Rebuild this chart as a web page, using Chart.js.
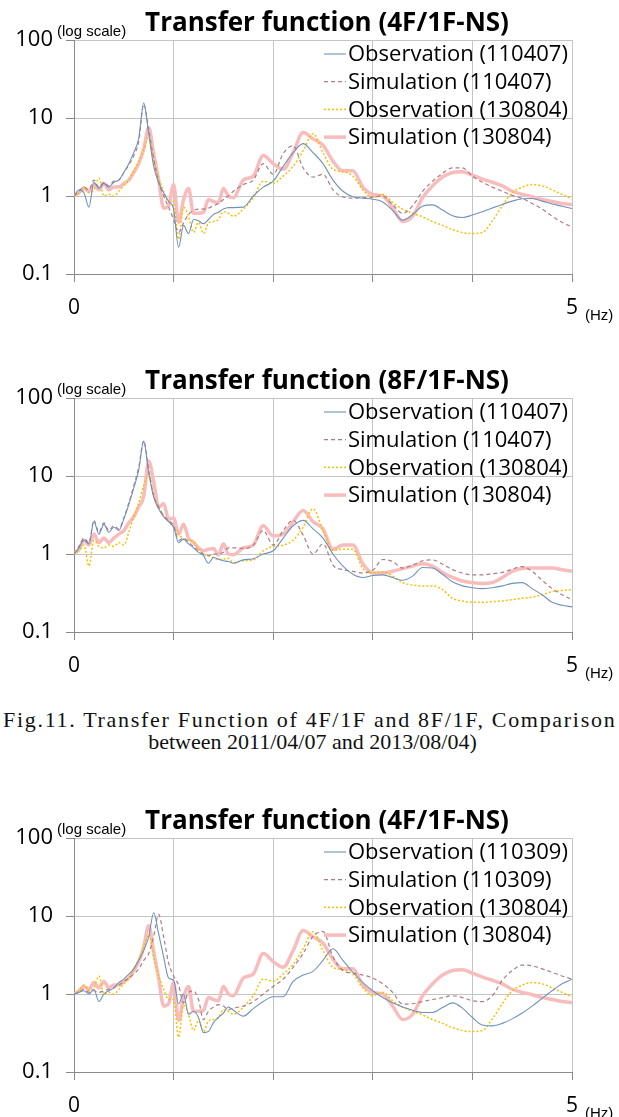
<!DOCTYPE html>
<html>
<head>
<meta charset="utf-8">
<script src="https://cdn.jsdelivr.net/npm/chart.js@4.4.1/dist/chart.umd.min.js"></script>
<style>
  html, body { margin: 0; padding: 0; background: #fff; overflow: hidden; }
  body { width: 619px; height: 1117px; position: relative; }
  .box { position: absolute; left: 0; width: 619px; height: 330px; }
  .cap { position: absolute; font-family: "Liberation Serif", serif; font-size: 22px; line-height: 25px; color: #111; white-space: nowrap; }
</style>
</head>
<body>
<div class="box" style="top:0px"><canvas id="tf1" width="619" height="330"></canvas></div>
<div class="box" style="top:358px"><canvas id="tf2" width="619" height="330"></canvas></div>
<div class="cap" style="top:707px; left:3px; letter-spacing:1.7px">Fig.11. Transfer Function of 4F/1F and 8F/1F, Comparison</div>
<div class="cap" style="top:729px; left:0; width:625px; text-align:center">between 2011/04/07 and 2013/08/04)</div>
<div class="box" style="top:798px"><canvas id="tf3" width="619" height="330"></canvas></div>

<script>
// frequency grid (Hz), shared by every series
const freqHz = [0, 0.05, 0.1, 0.15, 0.2, 0.25, 0.3, 0.35, 0.4, 0.45,
  0.5, 0.55, 0.6, 0.65, 0.7, 0.75, 0.8, 0.85, 0.9, 0.95,
  1.0, 1.05, 1.1, 1.15, 1.2, 1.25, 1.3, 1.35, 1.4, 1.45,
  1.5, 1.55, 1.6, 1.7, 1.8, 1.9, 2.0, 2.1, 2.2, 2.3,
  2.4, 2.5, 2.6, 2.7, 2.8, 2.9, 3.0, 3.1, 3.2, 3.3,
  3.4, 3.5, 3.6, 3.7, 3.8, 3.9, 4.0, 4.1, 4.2, 4.3,
  4.4, 4.5, 4.6, 4.7, 4.8, 4.9, 5.0];

const yTickValues = [0.1, 1, 10, 100];
const xTickValues = [0, 1, 2, 3, 4, 5];

// 4F/1F-NS
const obs110407_4F = [1.0, 1.2, 1.1, 0.72, 1.5, 1.25, 1.45, 1.3, 1.5, 1.6,
  2.0, 2.6, 3.6, 5.5, 15.5, 6.3, 2.4, 1.5, 1.1, 0.85,
  0.68, 0.22, 0.42, 0.33, 0.5, 0.48, 0.44, 0.5, 0.58, 0.62,
  0.68, 0.71, 0.71, 0.72, 1.0, 1.3, 1.55, 2.4, 3.6, 4.7,
  3.6, 2.6, 1.6, 1.15, 0.98, 0.94, 0.91, 0.84, 0.65, 0.49,
  0.58, 0.74, 0.77, 0.66, 0.56, 0.53, 0.57, 0.63, 0.7, 0.78,
  0.86, 0.92, 0.93, 0.86, 0.79, 0.74, 0.69];
const sim110407_4F = [1.0, 1.15, 1.3, 1.2, 1.6, 1.3, 1.5, 1.35, 1.55, 1.6,
  2.0, 2.5, 3.3, 5.0, 15, 7.0, 3.0, 1.5, 1.0, 0.72,
  0.5, 0.34, 0.45, 0.58, 0.65, 0.68, 0.68, 0.7, 0.75, 0.8,
  0.9, 1.0, 1.15, 1.4, 1.6, 2.6, 1.9, 3.5, 4.4, 2.3,
  1.75, 1.9, 1.2, 0.97, 0.94, 0.95, 0.97, 1.0, 0.77, 0.6,
  0.75, 1.15, 1.55, 1.95, 2.3, 2.3, 1.8, 1.5, 1.3, 1.15,
  1.02, 0.93, 0.8, 0.68, 0.55, 0.46, 0.4];
const obs130804_4F = [1.0, 1.1, 1.3, 1.1, 1.2, 1.7, 1.0, 1.05, 1.0, 1.15,
  1.35, 1.6, 2.1, 2.8, 4.0, 5.8, 3.0, 1.7, 1.15, 0.85,
  0.85, 0.28, 0.72, 0.55, 0.34, 0.46, 0.33, 0.45, 0.47, 0.5,
  0.63, 0.6, 0.55, 0.68, 0.95, 1.55, 1.45, 1.8, 2.4, 3.8,
  6.3, 3.6, 2.2, 2.05, 1.8, 1.2, 0.95, 1.05, 0.82, 0.68,
  0.6, 0.54, 0.47, 0.42, 0.37, 0.34, 0.33, 0.34, 0.48, 0.75,
  1.1, 1.3, 1.4, 1.35, 1.2, 1.05, 0.92];
const sim130804_4F = [1.0, 1.1, 1.25, 1.15, 1.4, 1.2, 1.45, 1.2, 1.3, 1.3,
  1.45, 1.6, 2.0, 2.6, 4.0, 7.5, 3.5, 1.6, 0.7, 0.75,
  1.4, 0.46, 0.9, 1.25, 0.6, 0.6, 0.62, 0.9, 0.85, 0.82,
  1.25, 1.0, 0.95, 1.6, 1.8, 3.3, 2.6, 2.2, 3.6, 6.5,
  5.4, 4.5, 2.8, 2.1, 2.1, 1.3, 1.05, 1.0, 0.7, 0.47,
  0.55, 0.95, 1.35, 1.75, 2.0, 2.05, 1.85, 1.65, 1.5, 1.35,
  1.15, 1.05, 0.98, 0.9, 0.85, 0.8, 0.78];

// 8F/1F-NS
const obs110407_8F = [1.0, 1.2, 1.5, 1.35, 2.6, 1.8, 2.4, 1.9, 2.2, 2.0,
  2.8, 4.3, 7.0, 12, 28, 11, 5.4, 3.8, 3.0, 2.6,
  2.2, 1.4, 1.55, 1.35, 1.2, 1.05, 0.95, 0.76, 0.9, 0.86,
  0.82, 0.8, 0.76, 0.84, 0.87, 1.0, 1.1, 1.6, 2.3, 2.7,
  2.1, 1.6, 1.0, 0.7, 0.55, 0.5, 0.53, 0.54, 0.5, 0.46,
  0.52, 0.67, 0.66, 0.55, 0.44, 0.39, 0.37, 0.36, 0.37, 0.39,
  0.42, 0.43, 0.36, 0.3, 0.24, 0.22, 0.21];
const sim110407_8F = [1.0, 1.25, 1.6, 1.4, 2.7, 1.9, 2.5, 2.0, 2.3, 2.1,
  2.9, 4.5, 7.5, 13, 28, 12, 5.6, 4.0, 3.1, 2.7,
  2.3, 1.5, 1.6, 1.4, 1.25, 1.1, 1.0, 0.95, 1.0, 1.0,
  1.05, 1.2, 1.2, 1.18, 1.3, 2.0, 1.3, 2.0, 2.7, 1.75,
  1.0, 1.35, 0.72, 0.63, 0.6, 0.57, 0.62, 0.85, 0.8, 0.66,
  0.72, 0.82, 0.84, 0.74, 0.63, 0.57, 0.54, 0.54, 0.56, 0.58,
  0.64, 0.69, 0.6, 0.46, 0.36, 0.3, 0.26];
const obs130804_8F = [1.0, 1.1, 1.3, 0.7, 1.5, 1.25, 1.2, 1.3, 1.25, 1.4,
  1.3, 1.9, 3.0, 4.5, 7.5, 10.5, 5.5, 4.0, 3.1, 2.6,
  2.2, 1.8, 1.55, 1.5, 1.45, 1.2, 1.0, 0.95, 0.9, 0.85,
  0.86, 0.88, 0.78, 0.82, 0.84, 1.1, 1.25, 1.3, 1.5, 2.2,
  3.8, 2.0, 1.12, 1.15, 1.15, 0.65, 0.57, 0.59, 0.52, 0.43,
  0.4, 0.39, 0.39, 0.35, 0.27, 0.25, 0.24, 0.24, 0.245, 0.25,
  0.26, 0.27, 0.28, 0.3, 0.33, 0.34, 0.35];
const sim130804_8F = [1.0, 1.15, 1.5, 1.3, 1.8, 1.4, 1.6, 1.4, 1.6, 1.8,
  2.0, 2.5, 3.0, 4.0, 5.5, 15.5, 8.5, 4.0, 4.4, 2.8,
  2.9, 1.8, 2.4, 1.6, 1.4, 1.2, 1.1, 1.15, 1.18, 0.97,
  1.35, 1.0, 0.98, 1.2, 1.3, 2.3, 1.7, 1.8, 2.6, 3.6,
  2.6, 2.1, 1.15, 1.3, 1.3, 0.75, 0.57, 0.57, 0.6, 0.65,
  0.7, 0.75, 0.7, 0.58, 0.5, 0.45, 0.43, 0.42, 0.43, 0.5,
  0.6, 0.65, 0.66, 0.66, 0.66, 0.63, 0.6];

// 4F/1F-NS, 2011/03/09 event
const obs110309_4F = [1.0, 1.05, 1.1, 1.0, 1.15, 0.8, 1.0, 1.1, 1.2, 1.4,
  1.55, 1.8, 2.1, 2.7, 3.6, 5.4, 11, 5.9, 3.0, 1.6,
  1.5, 0.75, 1.0, 0.55, 0.6, 0.5, 0.32, 0.33, 0.43, 0.5,
  0.57, 0.68, 0.62, 0.52, 0.65, 0.8, 0.92, 0.92, 1.45, 1.75,
  1.95, 2.7, 3.8, 2.7, 1.9, 1.4, 1.1, 0.9, 0.77, 0.68,
  0.62, 0.58, 0.58, 0.67, 0.77, 0.66, 0.5, 0.4, 0.39, 0.42,
  0.48, 0.57, 0.7, 0.88, 1.1, 1.35, 1.55];
const sim110309_4F = [1.0, 1.05, 1.15, 1.05, 1.1, 1.05, 1.1, 1.15, 1.2, 1.3,
  1.45, 1.6, 1.8, 2.1, 2.7, 3.3, 5.5, 10.5, 5.4, 2.5,
  1.7, 1.3, 0.77, 1.05, 1.1, 0.85, 0.47, 0.6, 0.68, 0.73,
  0.7, 0.63, 0.66, 0.7, 0.8, 1.0, 1.25, 1.55, 2.2, 3.3,
  5.5, 6.3, 3.0, 2.0, 1.85, 1.75, 1.6, 1.35, 1.05, 0.74,
  0.75, 0.8, 0.85, 0.9, 0.95, 0.9, 0.82, 0.8, 0.95, 1.5,
  2.0, 2.35, 2.3, 2.1, 1.9, 1.7, 1.55];

Chart.defaults.font.family = '"Open Sans", sans-serif';
Chart.defaults.color = '#000';

const styleObs1 = { borderColor: '#7092bd', borderWidth: 1.1 };
const styleSim1 = { borderColor: '#ad7c84', borderWidth: 1.2, borderDash: [4, 3] };
const styleObs2 = { borderColor: '#f7c000', borderWidth: 1.5, borderDash: [2, 2] };
const styleSim2 = { borderColor: '#f8bcbc', borderWidth: 3.5 };

function series(label, values, style) {
  return Object.assign({
    label: label,
    data: freqHz.map((f, i) => ({ x: f, y: values[i] })),
    pointRadius: 0,
    fill: false,
    cubicInterpolationMode: 'monotone'
  }, style);
}

// title, small unit notes and the legend inside the plot
const decor = {
  id: 'decor',
  afterDraw(chart, args, opts) {
    const ctx = chart.ctx;
    const a = chart.chartArea;
    ctx.save();
    ctx.fillStyle = '#000';
    ctx.textBaseline = 'middle';
    ctx.textAlign = 'center';
    ctx.font = 'bold 26px "Open Sans"';
    ctx.fillText(opts.title, 327, a.top - 16);
    ctx.textAlign = 'left';
    ctx.font = '15px "Liberation Sans"';
    ctx.fillText('(log scale)', 57, a.top - 8);
    ctx.fillText('(Hz)', a.right + 13, a.bottom + 42);

    ctx.font = '22px "Open Sans"';
    chart.data.datasets.forEach((ds, i) => {
      const y = a.top + 14 + i * 27.7;
      ctx.strokeStyle = ds.borderColor;
      ctx.lineWidth = ds.borderWidth;
      ctx.setLineDash(ds.borderDash || []);
      ctx.beginPath();
      ctx.moveTo(a.left + 250, y);
      ctx.lineTo(a.left + 272, y);
      ctx.stroke();
      ctx.setLineDash([]);
      ctx.fillText(ds.label, a.left + 274, y + 1);
    });
    ctx.restore();
  }
};

function makeChart(id, title, datasets) {
  return new Chart(document.getElementById(id), {
    type: 'line',
    data: { datasets: datasets },
    plugins: [decor],
    options: {
      responsive: false,
      animation: false,
      layout: { padding: { top: 40, right: 47, bottom: 0, left: 0 } },
      plugins: {
        legend: { display: false },
        tooltip: { enabled: false },
        decor: { title: title }
      },
      scales: {
        x: {
          type: 'linear', min: 0, max: 5,
          afterBuildTicks: s => { s.ticks = xTickValues.map(v => ({ value: v })); },
          afterFit: s => { s.height = 56; },
          ticks: {
            autoSkip: false, maxRotation: 0, padding: 13,
            font: { size: 21 },
            callback: v => (v === 0 || v === 5) ? String(v) : ''
          },
          grid: { color: '#c4c4c4', tickLength: 8, tickColor: '#8a8a8a' },
          border: { color: '#8a8a8a' }
        },
        y: {
          type: 'logarithmic', min: 0.1, max: 100,
          afterBuildTicks: s => { s.ticks = yTickValues.map(v => ({ value: v })); },
          afterFit: s => { s.width = 74; },
          ticks: { padding: 13, font: { size: 22 }, callback: v => String(v) },
          grid: { color: '#c4c4c4', tickLength: 8, tickColor: '#8a8a8a' },
          border: { color: '#8a8a8a' }
        }
      }
    }
  });
}

makeChart('tf1', 'Transfer function (4F/1F-NS)', [
  series('Observation (110407)', obs110407_4F, styleObs1),
  series('Simulation (110407)', sim110407_4F, styleSim1),
  series('Observation (130804)', obs130804_4F, styleObs2),
  series('Simulation (130804)', sim130804_4F, styleSim2)
]);

makeChart('tf2', 'Transfer function (8F/1F-NS)', [
  series('Observation (110407)', obs110407_8F, styleObs1),
  series('Simulation (110407)', sim110407_8F, styleSim1),
  series('Observation (130804)', obs130804_8F, styleObs2),
  series('Simulation (130804)', sim130804_8F, styleSim2)
]);

makeChart('tf3', 'Transfer function (4F/1F-NS)', [
  series('Observation (110309)', obs110309_4F, styleObs1),
  series('Simulation (110309)', sim110309_4F, styleSim1),
  series('Observation (130804)', obs130804_4F, styleObs2),
  series('Simulation (130804)', sim130804_4F, styleSim2)
]);
</script>
</body>
</html>
